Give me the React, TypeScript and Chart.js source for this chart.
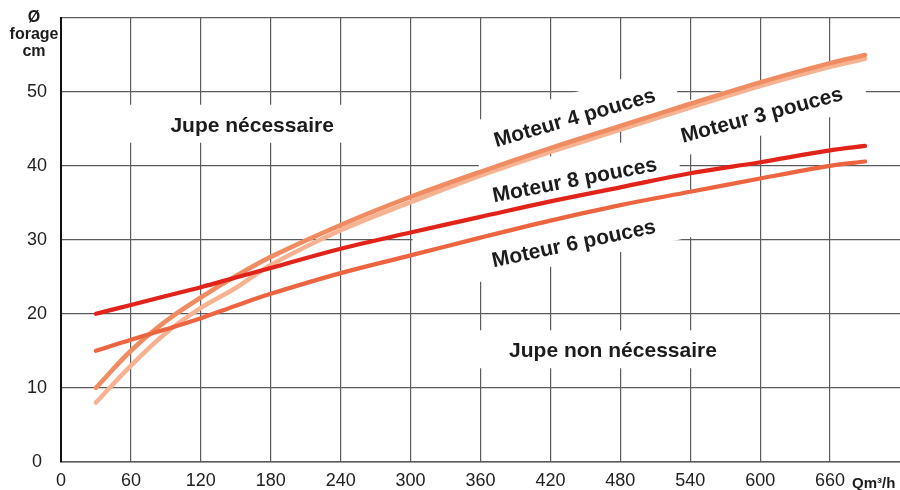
import React, { useEffect, useRef } from "react";
import { Chart, registerables } from "chart.js";

Chart.register(...registerables);

// Débit (Qm³/h) — shared abscissa for every curve
const flowX = [30, 60, 90, 120, 150, 180, 240, 300, 360, 420, 480, 540, 600, 660, 690];

// Ø forage (cm) per motor size
const moteur8 = [20.0, 21.2, 22.4, 23.6, 24.9, 26.2, 28.8, 31.0, 33.1, 35.2, 37.1, 39.0, 40.5, 42.1, 42.7];
const moteur6 = [15.0, 16.5, 17.9, 19.4, 21.1, 22.7, 25.5, 27.9, 30.3, 32.6, 34.7, 36.5, 38.3, 40.0, 40.6];
const moteur4 = [10.0, 15.0, 19.0, 22.2, 25.1, 27.7, 32.0, 35.8, 39.2, 42.4, 45.4, 48.4, 51.3, 53.9, 55.0];
const moteur3 = [8.0, 13.0, 17.4, 20.8, 23.5, 26.6, 31.3, 35.1, 38.7, 41.9, 44.9, 47.9, 50.8, 53.4, 54.5];

const seriesNames = ["Moteur 3 pouces", "Moteur 4 pouces", "Moteur 6 pouces", "Moteur 8 pouces"];
const seriesColors = ["#f7b291", "#f08c62", "#ec6540", "#e2231a"];
const seriesWidths = [4.6, 4.6, 4.2, 4.2];

const xMin = 0;
const xMax = 720;
const xStep = 60;
const yMin = 0;
const yMax = 60;
const yStep = 10;

const FONT = "'Liberation Sans', Arial, Helvetica, sans-serif";

type Note = {
  text: string;
  x: number;
  y: number;
  angle: number;
  boxX: number;
  boxY: number;
  boxW: number;
  boxH: number;
};

const notes: Note[] = [
  { text: "Jupe nécessaire", x: 164, y: 45.35, angle: 0, boxX: 164, boxY: 45.7, boxW: 270, boxH: 38 },
  { text: "Jupe non nécessaire", x: 473.7, y: 15.0, angle: 0, boxX: 473.7, boxY: 15.2, boxW: 270, boxH: 38 },
  { text: "Moteur 4 pouces", x: 441, y: 46.4, angle: -16, boxX: 441, boxY: 46.5, boxW: 211, boxH: 49 },
  { text: "Moteur 3 pouces", x: 601.6, y: 46.8, angle: -15, boxX: 600.7, boxY: 47.8, boxW: 211, boxH: 53 },
  { text: "Moteur 8 pouces", x: 441, y: 38.0, angle: -11, boxX: 441, boxY: 37.8, boxW: 212, boxH: 60 },
  { text: "Moteur 6 pouces", x: 440.2, y: 29.4, angle: -12, boxX: 424.8, boxY: 30.5, boxW: 282, boxH: 58 },
];

const notePlugin = {
  id: "notes",
  beforeDatasetsDraw(chart: any) {
    const { ctx } = chart;
    const xs = chart.scales.x;
    const ys = chart.scales.y;
    ctx.save();
    ctx.fillStyle = "#ffffff";
    for (const n of notes) {
      const bx = xs.getPixelForValue(n.boxX);
      const by = ys.getPixelForValue(n.boxY);
      ctx.save();
      ctx.translate(bx, by);
      ctx.rotate((n.angle * Math.PI) / 180);
      ctx.fillRect(-n.boxW / 2, -n.boxH / 2, n.boxW, n.boxH);
      ctx.restore();
    }
    ctx.fillStyle = "#1c1c1c";
    ctx.font = `bold 21px ${FONT}`;
    ctx.textAlign = "center";
    ctx.textBaseline = "middle";
    for (const n of notes) {
      const tx = xs.getPixelForValue(n.x);
      const ty = ys.getPixelForValue(n.y);
      ctx.save();
      ctx.translate(tx, ty);
      ctx.rotate((n.angle * Math.PI) / 180);
      ctx.fillText(n.text, 0, 0);
      ctx.restore();
    }
    ctx.restore();
  },
  afterDraw(chart: any) {
    const { ctx } = chart;
    const xs = chart.scales.x;
    ctx.save();
    ctx.fillStyle = "#1c1c1c";
    ctx.font = `bold 16px ${FONT}`;
    ctx.textAlign = "center";
    ctx.textBaseline = "middle";
    const titleLines = ["Ø", "forage", "cm"];
    titleLines.forEach((t, i) => ctx.fillText(t, 34, 18 + i * 17));
    ctx.font = `bold 15px ${FONT}`;
    ctx.textAlign = "left";
    ctx.textBaseline = "alphabetic";
    ctx.fillText("Qm³/h", xs.getPixelForValue(660) + 22, 488);
    ctx.restore();
  },
};

export default function App() {
  const canvasRef = useRef<HTMLCanvasElement | null>(null);

  useEffect(() => {
    const canvas = canvasRef.current;
    if (!canvas) return;
    const order = [0, 1, 2, 3];
    const values = [moteur3, moteur4, moteur6, moteur8];
    const chart = new Chart(canvas, {
      type: "line",
      data: {
        datasets: order.map((i) => ({
          label: seriesNames[i],
          data: flowX.map((fx, k) => ({ x: fx, y: values[i][k] })),
          borderColor: seriesColors[i],
          borderWidth: seriesWidths[i],
          borderCapStyle: "round" as const,
          borderJoinStyle: "round" as const,
          pointRadius: 0,
          pointHoverRadius: 0,
          fill: false,
          tension: 0.35,
          order: 4 - i,
        })),
      },
      options: {
        responsive: false,
        animation: false,
        events: [],
        layout: { autoPadding: false, padding: { top: 18, right: 0, left: 0, bottom: 0 } },
        plugins: {
          legend: { display: false },
          tooltip: { enabled: false },
          title: { display: false },
        },
        scales: {
          x: {
            type: "linear",
            min: xMin,
            max: xMax,
            afterFit: (s: any) => {
              s.height = 28.3;
              s.paddingLeft = 0;
              s.paddingRight = 0;
            },
            ticks: {
              stepSize: xStep,
              color: "#222",
              font: { family: FONT, size: 18 },
              padding: 9,
              maxRotation: 0,
              autoSkip: false,
              callback: (v: any) => (Number(v) >= xMax ? "" : String(v)),
            },
            grid: {
              drawTicks: false,
              color: (c: any) => (c.tick && c.tick.value >= xMax ? "rgba(0,0,0,0)" : "#5c5c5c"),
              lineWidth: 1.2,
            },
            border: { display: true, color: "#5c5c5c", width: 1.5 },
          },
          y: {
            type: "linear",
            min: yMin,
            max: yMax,
            afterFit: (s: any) => {
              s.width = 61;
              s.paddingTop = 0;
              s.paddingBottom = 0;
            },
            ticks: {
              stepSize: yStep,
              color: "#222",
              font: { family: FONT, size: 18 },
              padding: 14,
              crossAlign: "center",
              callback: (v: any) => (Number(v) >= yMax ? "" : String(v)),
            },
            grid: {
              drawTicks: false,
              color: "#5c5c5c",
              lineWidth: 1.2,
            },
            border: { display: true, color: "#111", width: 2 },
          },
        },
      },
      plugins: [notePlugin],
    });
    return () => chart.destroy();
  }, []);

  return (
    <div style={{ position: "absolute", left: 0, top: 0, width: 900, height: 490, background: "#fff" }}>
      <canvas ref={canvasRef} width={900} height={490} style={{ display: "block" }} />
    </div>
  );
}
